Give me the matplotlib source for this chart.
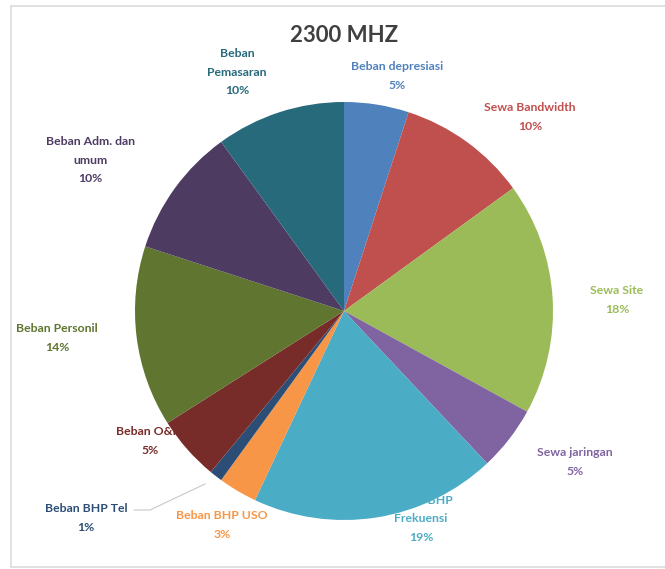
import matplotlib.pyplot as plt
from matplotlib.lines import Line2D

W, H = 665, 569

labels = ["Beban depresiasi", "Sewa Bandwidth", "Sewa Site", "Sewa jaringan",
          "Beban BHP\nFrekuensi", "Beban BHP USO", "Beban BHP Tel", "Beban O&M",
          "Beban Personil", "Beban Adm. dan\numum", "Beban\nPemasaran"]
values = [5, 10, 18, 5, 19, 3, 1, 5, 14, 10, 10]
colors = ["#4F81BD", "#C0504D", "#9BBB59", "#8064A2", "#4BACC6", "#F79646",
          "#2C4D75", "#772C2A", "#5F7530", "#4D3B62", "#276A7C"]

# label centres in pixel coords (x, y from top)
label_pos = [(397, 76), (530, 117), (617, 300), (575, 462), (421, 519),
             (222, 525), (86, 518), (150, 441), (57, 338), (90, 160), (237, 72)]

fig = plt.figure(figsize=(W / 100, H / 100), dpi=100)
ax = fig.add_axes([0, 0, 1, 1])

cx, cy, r = 344, H - 311, 209
wedges, _ = ax.pie(values, colors=colors, startangle=90, counterclock=False,
                   center=(cx, cy), radius=r, frame=True,
                   wedgeprops=dict(linewidth=0, zorder=3))
ax.set_xlim(0, W)
ax.set_ylim(0, H)
ax.set_aspect("equal")
ax.axis("off")

for lab, v, col, (x, y) in zip(labels, values, colors, label_pos):
    ax.text(x, H - y, f"{lab}\n{v}%", color=col, ha="center", va="center",
            fontsize=8.8, fontweight="bold", family="Lato", linespacing=1.8,
            zorder=1)

# leader line for the tiny slice
ax.plot([134, 150, 205], [H - 510, H - 510, H - 484], color="#C8C8C8",
        linewidth=0.8, zorder=2)

ax.text(cx, H - 35, "2300 MHZ", ha="center", va="center", fontsize=16,
        fontweight="bold", family="Lato", color="#404040")

# chart area border (left, top, bottom; right side is cut off)
for xs, ys in [([10.5, 10.5], [H - 6, H - 567]),
               ([10.5, W], [H - 6, H - 6]),
               ([10.5, W], [H - 567, H - 567])]:
    fig.add_artist(Line2D([x / W for x in xs], [y / H for y in ys],
                          transform=fig.transFigure, color="#DCDCDC", linewidth=1.2))

fig.savefig("out.png", dpi=100, facecolor="white")
